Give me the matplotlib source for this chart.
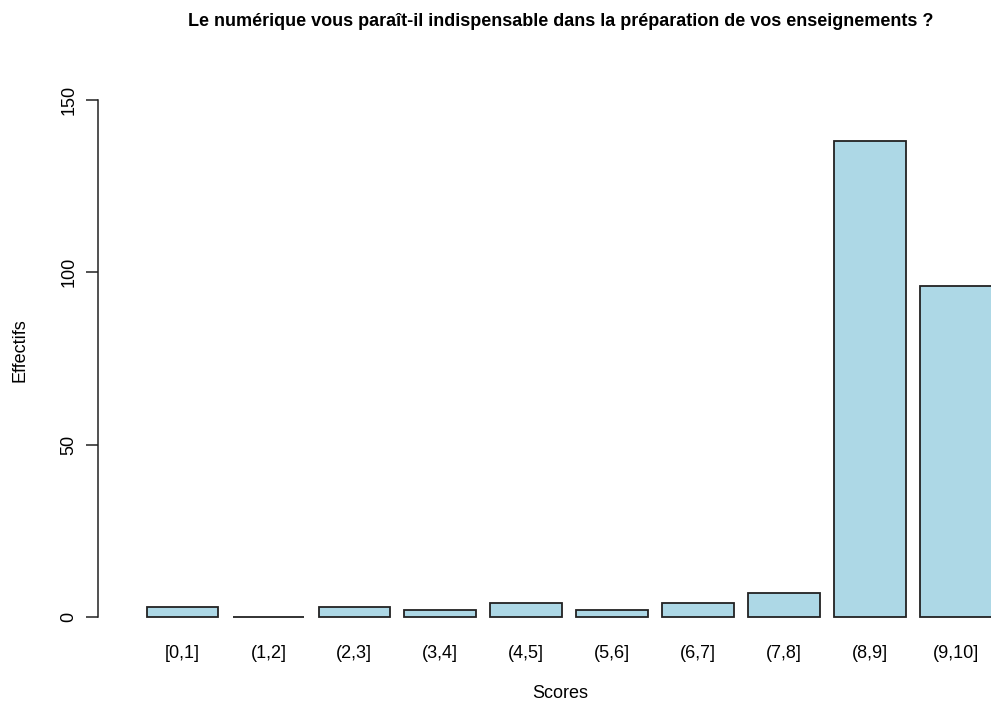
import matplotlib
matplotlib.use("Agg")
import matplotlib.pyplot as plt

# ==== DATA ====
categories = ["[0,1]", "(1,2]", "(2,3]", "(3,4]", "(4,5]",
              "(5,6]", "(6,7]", "(7,8]", "(8,9]", "(9,10]"]
counts = [3, 0, 3, 2, 4, 2, 4, 7, 138, 96]
yticks = [0, 50, 100, 150]

plt.rcParams['font.family'] = ['Liberation Sans', 'DejaVu Sans']

W, H = 991, 701
fig = plt.figure(figsize=(W / 100, H / 100), dpi=100)

# axes placed in pixels to mimic the R barplot layout
left, right = 98, 991
top, bottom = 79.3, 637.7
ax = fig.add_axes([left / W, (H - bottom) / H, (right - left) / W, (bottom - top) / H])

# R style positions: width 1, space 0.2
centers = [0.7 + 1.2 * i for i in range(len(counts))]
ax.bar(centers, counts, width=1.0, color='#ADD8E6', edgecolor='#222222', linewidth=1.3)

ax.set_xlim(-0.48, 11.99)
ax.set_ylim(-6, 156)

for s in ['top', 'right', 'bottom']:
    ax.spines[s].set_visible(False)
ax.spines['left'].set_bounds(0, 150)
ax.spines['left'].set_color('#222222')
ax.spines['left'].set_linewidth(1.1)

FS = 13
ax.set_yticks(yticks)
ax.set_yticklabels([str(v) for v in yticks], rotation=90, va='center', fontsize=FS)
ax.tick_params(axis='y', length=9, width=1.1, color='#222222', pad=6)

ax.set_xticks(centers)
ax.set_xticklabels(categories, fontsize=FS)
ax.tick_params(axis='x', length=0, pad=5.5)

fig.text(20 / W, 1 - 350 / H, "Effectifs", rotation=90, ha='center', va='center', fontsize=FS)
fig.text(560 / W, 1 - 693 / H, "Scores", ha='center', va='center', fontsize=FS)
fig.text(561 / W, 1 - 22 / H, "Le numérique vous paraît-il indispensable dans la préparation de vos enseignements ?",
         ha='center', va='center', fontsize=13, fontweight='bold')

fig.savefig("out.png", dpi=100)
